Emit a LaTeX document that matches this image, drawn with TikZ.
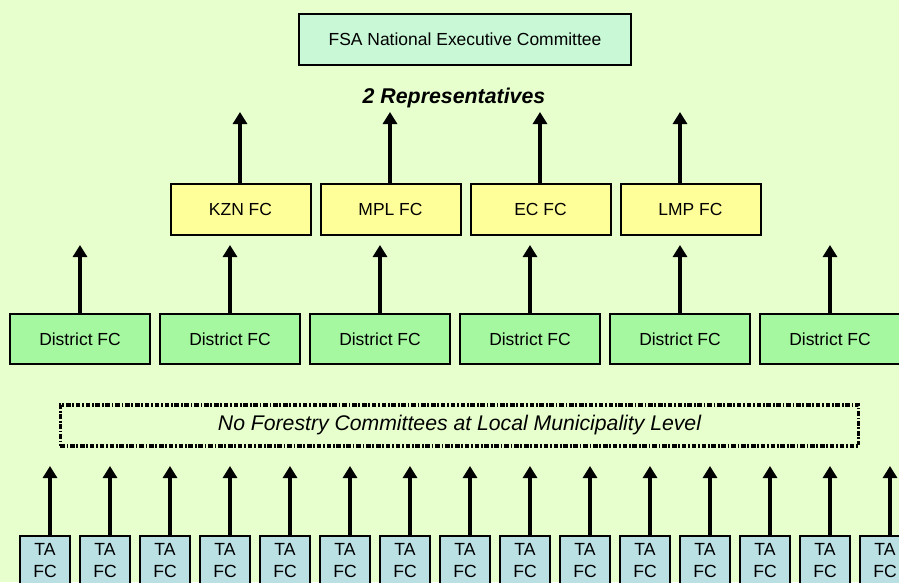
\documentclass[tikz,border=0pt]{standalone}
\usepackage{fontspec}
\setmainfont{Liberation Sans}
\usetikzlibrary{positioning,arrows.meta}

\definecolor{bgfill}{RGB}{230,255,204}
\definecolor{natfill}{RGB}{200,248,214}
\definecolor{provfill}{RGB}{255,255,153}
\definecolor{distfill}{RGB}{166,248,160}
\definecolor{tafill}{RGB}{186,224,228}

\begin{document}
\begin{tikzpicture}[
        x=0.75pt, y=-0.75pt,
        box/.style={
                rectangle,
                draw=black,
                line width=1.5pt,
                inner sep=0pt,
                outer sep=0pt,
                font=\fontsize{13.1}{15}\selectfont
            },
        natbox/.style  = {box, fill=natfill, minimum width=249pt, minimum height=38.25pt},
        provbox/.style = {box, fill=provfill, minimum width=105pt, minimum height=38.25pt},
        distbox/.style = {box, fill=distfill, minimum width=105pt, minimum height=37.5pt},
        tabox/.style   = {box, fill=tafill, minimum width=37.5pt, minimum height=37.5pt,
                          align=center, font=\fontsize{13.2}{16.5}\selectfont},
        nolevel/.style = {rectangle, draw=black, line width=2.4pt, inner sep=0pt,
                          dash pattern=on 3.5pt off 1.3pt on 1.3pt off 1.3pt,
                          minimum width=599pt, minimum height=30.75pt,
                          font=\fontsize{15.9}{18}\selectfont\itshape},
        reps/.style    = {font=\fontsize{16}{19}\selectfont\bfseries\itshape},
        up/.style      = {-{Triangle[length=9pt,width=10.5pt]}, line width=2.8pt}
    ]
    \useasboundingbox (0,0) rectangle (899,582);
    \clip (0,0) rectangle (899,582);
    \fill[bgfill] (0,0) rectangle (899,582);

    % national level
    \node[natbox] (nat) at (465,39.5) {FSA National Executive Committee};
    \node[reps] (repstext) at (454,98) {2 Representatives};

    % provincial forestry committees
    \node[provbox] (kzn) at (240.5,209.5) {KZN FC};
    \node[provbox] (mpl) [right=7.5pt of kzn] {MPL FC};
    \node[provbox] (ec)  [right=7.5pt of mpl] {EC FC};
    \node[provbox] (lmp) [right=7.5pt of ec]  {LMP FC};

    \coordinate (kznrep) at (240,112);
    \coordinate (mplrep) at (390,112);
    \coordinate (ecrep)  at (540,112);
    \coordinate (lmprep) at (680,112);
    \path[up] (kzn.north -| kznrep) edge (kznrep);
    \path[up] (mpl.north -| mplrep) edge (mplrep);
    \path[up] (ec.north -| ecrep)   edge (ecrep);
    \path[up] (lmp.north -| lmprep) edge (lmprep);

    % district forestry committees
    \node[distbox] (dist1) at (80,339) {District FC};
    \node[distbox] (dist2) [right=7.5pt of dist1] {District FC};
    \node[distbox] (dist3) [right=7.5pt of dist2] {District FC};
    \node[distbox] (dist4) [right=7.5pt of dist3] {District FC};
    \node[distbox] (dist5) [right=7.5pt of dist4] {District FC};
    \node[distbox] (dist6) [right=7.5pt of dist5] {District FC};

    \foreach \d in {1,...,6} {
        \coordinate (disttip\d) at ([yshift=51.75pt]dist\d.north);
        \path[up] (dist\d.north) edge (disttip\d);
    }

    % local municipality level
    \node[nolevel] (nofc) at (459.5,425.5) {No Forestry Committees at Local Municipality Level};

    % traditional authority forestry committees
    \foreach \t in {0,...,14} {
        \node[tabox] (ta\t) at (45+60*\t,561) {TA\\FC};
        \coordinate (tatip\t) at (50+60*\t,466);
        \path[up] (ta\t.north -| tatip\t) edge (tatip\t);
    }
\end{tikzpicture}
\end{document}
